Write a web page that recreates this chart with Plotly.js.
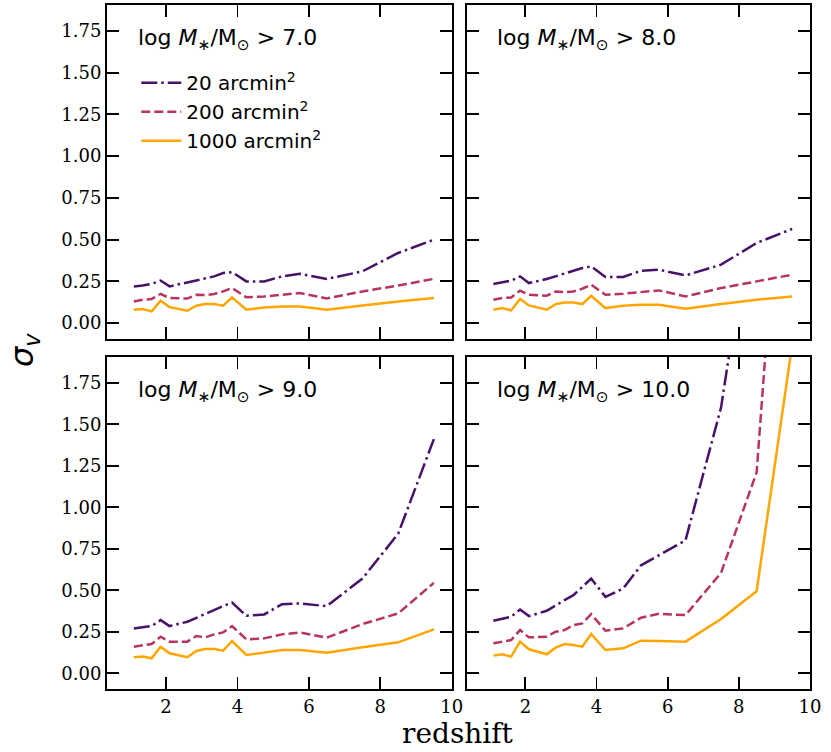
<!DOCTYPE html>
<html>
<head>
<meta charset="utf-8">
<script src="https://cdn.plot.ly/plotly-3.0.1.min.js"></script>
<style>
  html, body { margin: 0; padding: 0; background: #fff; }
  #chart { width: 831px; height: 752px; }
</style>
</head>
<body>
<div id="chart"></div>
<script>
// redshift grid shared by all panels
var redshift = [1.1, 1.35, 1.6, 1.85, 2.1, 2.6, 2.85, 3.1, 3.35, 3.6, 3.85, 4.25, 4.75, 5.25, 5.75, 6.5, 7.5, 8.5, 9.5];

// log M*/Msun > 7.0
var s20_m7   = [0.22, 0.225, 0.235, 0.255, 0.22, 0.245, 0.255, 0.27, 0.28, 0.30, 0.305, 0.25, 0.25, 0.28, 0.295, 0.265, 0.31, 0.42, 0.50];
var s200_m7  = [0.13, 0.14, 0.145, 0.175, 0.15, 0.147, 0.17, 0.168, 0.175, 0.19, 0.21, 0.155, 0.16, 0.17, 0.18, 0.148, 0.19, 0.225, 0.265];
var s1000_m7 = [0.08, 0.084, 0.07, 0.134, 0.096, 0.074, 0.104, 0.114, 0.114, 0.104, 0.154, 0.08, 0.094, 0.10, 0.10, 0.08, 0.105, 0.13, 0.15];

// log M*/Msun > 8.0
var s20_m8   = [0.234, 0.245, 0.254, 0.28, 0.24, 0.264, 0.28, 0.295, 0.31, 0.33, 0.34, 0.276, 0.276, 0.314, 0.32, 0.286, 0.35, 0.48, 0.564];
var s200_m8  = [0.14, 0.15, 0.154, 0.194, 0.17, 0.164, 0.19, 0.185, 0.19, 0.206, 0.23, 0.17, 0.176, 0.186, 0.196, 0.16, 0.21, 0.25, 0.29];
var s1000_m8 = [0.08, 0.09, 0.076, 0.144, 0.106, 0.08, 0.114, 0.124, 0.124, 0.114, 0.164, 0.09, 0.104, 0.11, 0.11, 0.086, 0.115, 0.14, 0.16];

// log M*/Msun > 9.0
var s20_m9   = [0.27, 0.278, 0.284, 0.32, 0.284, 0.31, 0.334, 0.36, 0.384, 0.404, 0.426, 0.346, 0.354, 0.416, 0.42, 0.404, 0.57, 0.84, 1.41];
var s200_m9  = [0.16, 0.17, 0.176, 0.22, 0.19, 0.19, 0.224, 0.216, 0.234, 0.246, 0.284, 0.204, 0.21, 0.234, 0.246, 0.214, 0.296, 0.36, 0.544];
var s1000_m9 = [0.096, 0.10, 0.09, 0.16, 0.12, 0.096, 0.134, 0.146, 0.146, 0.136, 0.194, 0.11, 0.124, 0.14, 0.14, 0.124, 0.156, 0.186, 0.264];

// log M*/Msun > 10.0 (high-z values run off the top of the panel)
var s20_m10   = [0.316, 0.33, 0.34, 0.384, 0.344, 0.376, 0.41, 0.44, 0.47, 0.52, 0.57, 0.46, 0.51, 0.65, 0.71, 0.80, 1.60, 3.0, 6.0];
var s200_m10  = [0.18, 0.19, 0.20, 0.26, 0.216, 0.22, 0.25, 0.26, 0.29, 0.30, 0.356, 0.256, 0.27, 0.334, 0.358, 0.35, 0.604, 1.21, 4.1];
var s1000_m10 = [0.106, 0.114, 0.10, 0.19, 0.144, 0.114, 0.154, 0.176, 0.17, 0.16, 0.236, 0.14, 0.15, 0.196, 0.194, 0.19, 0.326, 0.494, 1.98];

var areaNames = ["20 arcmin<sup>2</sup>", "200 arcmin<sup>2</sup>", "1000 arcmin<sup>2</sup>"];
var massLabels = ["7.0", "8.0", "9.0", "10.0"];
var yTicks = [0, 0.25, 0.5, 0.75, 1.0, 1.25, 1.5, 1.75];
var xTicks = [0, 2, 4, 6, 8, 10];

var colors = ["#481269", "#b5365a", "#ffa500"];
var dashes = ["16px,4px,2.5px,4px", "9px,4px", "solid"];

var panels = [
  [s20_m7, s200_m7, s1000_m7],
  [s20_m8, s200_m8, s1000_m8],
  [s20_m9, s200_m9, s1000_m9],
  [s20_m10, s200_m10, s1000_m10]
];

var data = [];
panels.forEach(function (series, p) {
  var suffix = p === 0 ? "" : String(p + 1);
  series.forEach(function (vals, k) {
    data.push({
      x: redshift,
      y: vals,
      mode: "lines",
      type: "scatter",
      name: areaNames[k],
      showlegend: p === 0,
      xaxis: "x" + suffix,
      yaxis: "y" + suffix,
      line: { color: colors[k], width: 2.5, dash: dashes[k] }
    });
  });
});

function xAxis(domain, anchor, labels) {
  return {
    domain: domain, anchor: anchor, range: [0.35, 10],
    tickmode: "array", tickvals: xTicks, showticklabels: labels,
    ticks: "inside", ticklen: 12, tickwidth: 1.8, tickcolor: "#000",
    showline: true, linewidth: 2, linecolor: "#000", mirror: "allticks",
    showgrid: false, zeroline: false,
    tickfont: { family: "DejaVu Serif", size: 18, color: "#000" }
  };
}
function yAxis(domain, anchor, labels) {
  return {
    domain: domain, anchor: anchor, range: [-0.095, 1.905],
    tickmode: "array", tickvals: yTicks, tickformat: ".2f", showticklabels: labels,
    ticks: "inside", ticklen: 12, tickwidth: 1.8, tickcolor: "#000",
    showline: true, linewidth: 2, linecolor: "#000", mirror: "allticks",
    showgrid: false, zeroline: false,
    tickfont: { family: "DejaVu Serif", size: 18, color: "#000" }
  };
}

var colL = [0.1288, 0.5436], colR = [0.5616, 0.9747];
var rowT = [0.5492, 0.9934], rowB = [0.0838, 0.5253];

var annotations = massLabels.map(function (m, p) {
  var suffix = p === 0 ? "" : String(p + 1);
  return {
    xref: "x" + suffix, yref: "y" + suffix, x: 1.15, y: 1.70,
    xanchor: "left", yanchor: "middle", showarrow: false,
    text: "log <i>M</i><sub>∗</sub>/M<sub>⊙</sub> > " + m,
    font: { family: "DejaVu Sans", size: 22, color: "#000" }
  };
});
annotations.push({
  xref: "paper", yref: "paper", x: 458 / 831, y: 1 - 733 / 752,
  xanchor: "center", yanchor: "middle", showarrow: false,
  text: "redshift", font: { family: "DejaVu Serif", size: 28, color: "#000" }
});
annotations.push({
  xref: "paper", yref: "paper", x: 24 / 831, y: 1 - 350 / 752,
  xanchor: "center", yanchor: "middle", showarrow: false, textangle: -90,
  text: "<i>σ</i><sub><i>v</i></sub>", font: { family: "DejaVu Sans", size: 32, color: "#000" }
});

var layout = {
  width: 831, height: 752,
  margin: { l: 0, r: 0, t: 0, b: 0 },
  paper_bgcolor: "#fff", plot_bgcolor: "#fff",
  xaxis: xAxis(colL, "y", false),
  yaxis: yAxis(rowT, "x", true),
  xaxis2: xAxis(colR, "y2", false),
  yaxis2: yAxis(rowT, "x2", false),
  xaxis3: xAxis(colL, "y3", true),
  yaxis3: yAxis(rowB, "x3", true),
  xaxis4: xAxis(colR, "y4", true),
  yaxis4: yAxis(rowB, "x4", false),
  showlegend: true,
  legend: {
    x: 0.164, y: 0.916, xanchor: "left", yanchor: "top",
    bgcolor: "rgba(0,0,0,0)", borderwidth: 0, itemwidth: 40,
    font: { family: "DejaVu Sans", size: 20, color: "#000" }
  },
  annotations: annotations
};

Plotly.newPlot("chart", data, layout, { displayModeBar: false, staticPlot: true });
</script>
</body>
</html>
